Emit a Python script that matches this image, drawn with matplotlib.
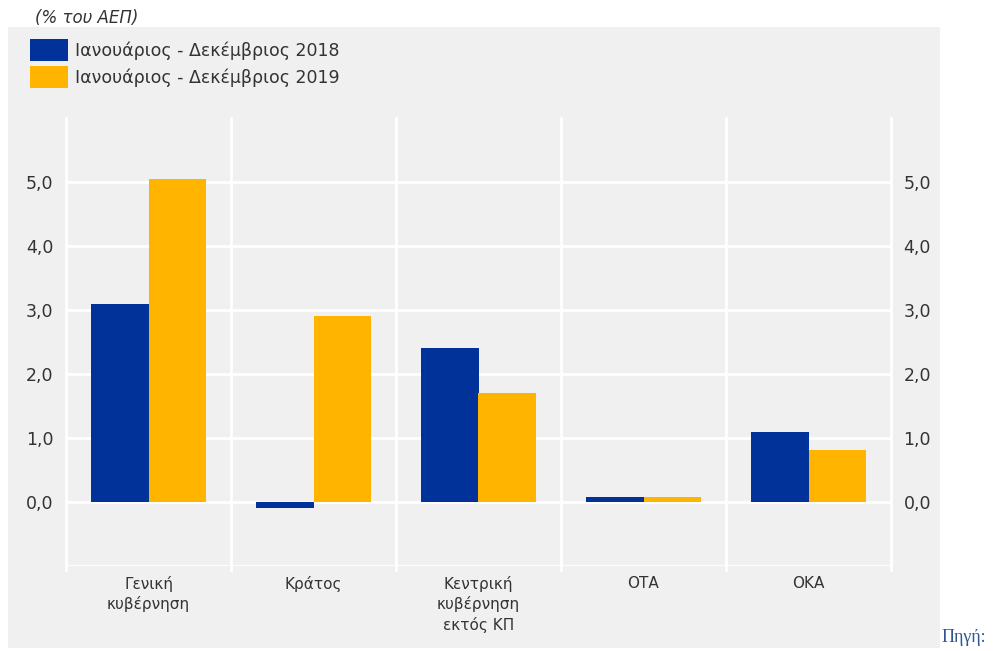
import matplotlib.pyplot as plt
from matplotlib.patches import Rectangle

categories = ["Γενική\nκυβέρνηση", "Κράτος", "Κεντρική\nκυβέρνηση\nεκτός ΚΠ", "ΟΤΑ", "ΟΚΑ"]
series_names = ["Ιανουάριος - Δεκέμβριος 2018", "Ιανουάριος - Δεκέμβριος 2019"]
values_2018 = [3.1, -0.1, 2.4, 0.08, 1.1]
values_2019 = [5.05, 2.9, 1.7, 0.08, 0.82]
yticks = [0, 1, 2, 3, 4, 5]
ytick_labels = ["0,0", "1,0", "2,0", "3,0", "4,0", "5,0"]

blue = "#003299"
yellow = "#FFB400"
grey = "#F0F0F0"
text_col = "#333333"

plt.rcParams['font.family'] = ['DejaVu Sans']

fig = plt.figure(figsize=(9.99, 6.51), dpi=100)
W, H = 999, 651

def fx(px):
    return px / W

def fy(py):
    return 1 - py / H

# grey panel behind the chart
fig.patches.append(Rectangle((fx(8), fy(648)), fx(940) - fx(8), fy(27) - fy(648),
                             transform=fig.transFigure, facecolor=grey,
                             edgecolor='none', zorder=-1))

ax = fig.add_axes([fx(66), fy(566), fx(891) - fx(66), fy(118) - fy(566)])
ax.set_facecolor('none')

x = list(range(len(categories)))
w = 0.35
b1 = ax.bar([i - w / 2 for i in x], values_2018, w, color=blue, zorder=3)
b2 = ax.bar([i + w / 2 for i in x], values_2019, w, color=yellow, zorder=3)

ax.set_xlim(-0.5, len(categories) - 0.5)
ax.set_ylim(-1, 6)

# grid
for y in [-1] + yticks:
    ax.axhline(y, color='white', lw=2, zorder=1)
for i in range(len(categories) + 1):
    ax.plot([i - 0.5, i - 0.5], [-1.07, 6], color='white', lw=2,
            zorder=1, clip_on=False)

for s in ax.spines.values():
    s.set_visible(False)

ax.set_yticks(yticks)
ax.set_yticklabels(ytick_labels)
ax.tick_params(axis='y', length=0, pad=9, labelsize=12.5, labelcolor=text_col,
               labelright=True)
ax.set_xticks(x)
ax.set_xticklabels(categories, linespacing=1.35)
ax.tick_params(axis='x', length=0, pad=7, labelsize=11, labelcolor=text_col)

ax.legend([b1, b2], series_names, loc='upper left',
          bbox_to_anchor=(fx(30), fy(39)), bbox_transform=fig.transFigure,
          frameon=False, fontsize=12.5, handlelength=2.19, handleheight=1.56,
          handletextpad=0.4, labelspacing=0.29, borderpad=0, borderaxespad=0,
          labelcolor=text_col)

fig.text(fx(35), fy(18), "(% του ΑΕΠ)", fontsize=12, style='italic',
         color=text_col, va='center', ha='left')

# white cover at the right edge (clips right tick labels like the original)
fig.patches.append(Rectangle((fx(940), 0), 1 - fx(940), 1,
                             transform=fig.transFigure, facecolor='white',
                             edgecolor='none', zorder=10))
fig.text(fx(942), fy(638), "Πηγή:", fontsize=13, family='Liberation Serif',
         color='#2F5597', va='center', ha='left', zorder=11)

fig.savefig("out.png", dpi=100)
